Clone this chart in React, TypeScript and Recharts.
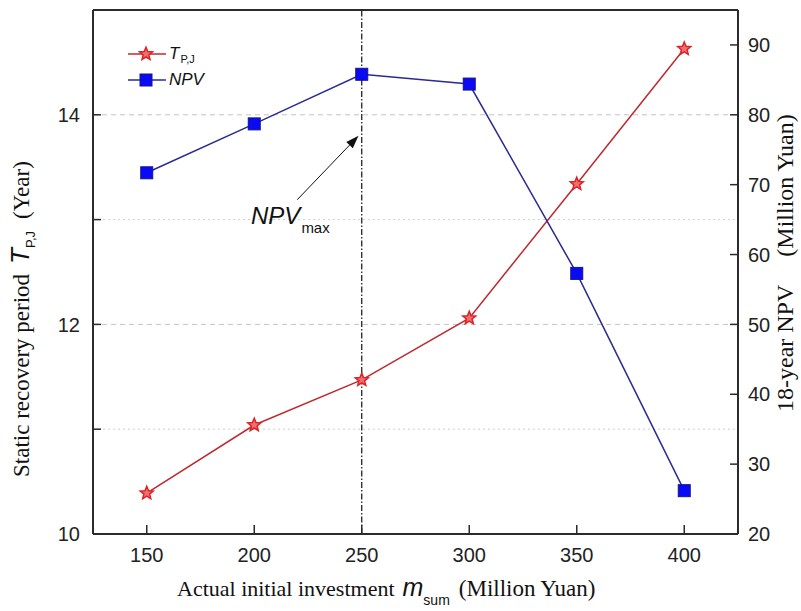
import React from 'react';
import {
  ComposedChart, Line, XAxis, YAxis, ReferenceLine, ReferenceDot, Legend,
} from 'recharts';

// ---- data ----
const investment = [150, 200, 250, 300, 350, 400];
const recoveryPeriod = [10.39, 11.04, 11.47, 12.06, 13.34, 14.63];
const npvValues = [71.7, 78.7, 85.8, 84.4, 57.3, 26.2];

const xTicks = [150, 200, 250, 300, 350, 400];
const leftTicks = [10, 11, 12, 13, 14, 15];
const leftLabeledTicks = [10, 12, 14];
const rightTicks = [20, 30, 40, 50, 60, 70, 80, 90];
const majorGridValues = [12, 14];
const minorGridValues = [11, 13];
const optimumInvestment = 250;
const arrowStart = { x: 220, y: 13.19 };
const arrowEnd = { x: 248.5, y: 13.8 };
const annotationAnchor = { x: 198.5, y: 12.96 };

const data = investment.map((m, i) => ({ m, tpj: recoveryPeriod[i], npv: npvValues[i] }));

const SANS = '"Liberation Sans", Arial, sans-serif';
const SERIF = '"Liberation Serif", "Times New Roman", serif';
const RED_LINE = '#c0282e';
const RED_MARK = '#dc2328';
const BLUE_LINE = '#2a2a92';
const BLUE_MARK = '#0a0af5';
const AXIS = '#2b2b2b';

const starPoints = (cx: number, cy: number, R: number, r: number) => {
  const pts: string[] = [];
  for (let i = 0; i < 10; i++) {
    const rad = i % 2 === 0 ? R : r;
    const a = -Math.PI / 2 + (i * Math.PI) / 5;
    pts.push(`${cx + rad * Math.cos(a)},${cy + rad * Math.sin(a)}`);
  }
  return pts.join(' ');
};

const Star = ({ cx, cy }: any) => (
  <polygon points={starPoints(cx, cy, 6.8, 3)} fill="#ef7070" stroke={RED_MARK} strokeWidth={1.5} />
);
const Square = ({ cx, cy }: any) => (
  <rect x={cx - 6} y={cy - 6} width={12} height={12} fill={BLUE_MARK} stroke="#15158a" strokeWidth={1} />
);

const LeftTick = (p: any) => {
  const { x, y, payload } = p;
  const ax = x + 13;
  return (
    <g>
      <line x1={ax} y1={y} x2={ax + 8} y2={y} stroke={AXIS} strokeWidth={1.5} />
      {leftLabeledTicks.includes(payload.value) && (
        <text x={x} y={y} dy="0.36em" textAnchor="end" fontFamily={SANS} fontSize={20} fill="#222">
          {payload.value}
        </text>
      )}
    </g>
  );
};

const RightTick = (p: any) => {
  const { x, y, payload } = p;
  const ax = x - 10;
  return (
    <g>
      <line x1={ax} y1={y} x2={ax - 8} y2={y} stroke={AXIS} strokeWidth={1.5} />
      <text x={x} y={y} dy="0.36em" textAnchor="start" fontFamily={SANS} fontSize={20} fill="#222">
        {payload.value}
      </text>
    </g>
  );
};

const BottomTick = (p: any) => {
  const { x, y, payload } = p;
  const ay = y - 14;
  return (
    <g>
      <line x1={x} y1={ay} x2={x} y2={ay - 9} stroke={AXIS} strokeWidth={1.5} />
      <text x={x} y={y} dy="0.72em" textAnchor="middle" fontFamily={SANS} fontSize={20} fill="#222">
        {payload.value}
      </text>
    </g>
  );
};

const BottomTitle = () => (
  <text x={177} y={596} fill="#111">
    <tspan fontFamily={SERIF} fontSize={22}>Actual initial investment</tspan>
    <tspan fontFamily={SANS} fontStyle="italic" fontSize={25} dx={8}>m</tspan>
    <tspan fontFamily={SANS} fontSize={14} dy={9}>sum</tspan>
    <tspan fontFamily={SERIF} fontSize={23} dy={-9} dx={9}>(Million Yuan)</tspan>
  </text>
);

const LeftTitle = () => (
  <text x={29} y={477} transform="rotate(-90, 29, 477)" fill="#111">
    <tspan fontFamily={SERIF} fontSize={23}>Static recovery period</tspan>
    <tspan fontFamily={SANS} fontStyle="italic" fontSize={26} dx={10}>T</tspan>
    <tspan fontFamily={SANS} fontSize={13} dy={6}>P,J</tspan>
    <tspan fontFamily={SERIF} fontSize={23} dy={-6} dx={12}>(Year)</tspan>
  </text>
);

const RightTitle = () => (
  <text x={793} y={412} transform="rotate(-90, 793, 412)" fill="#111" fontFamily={SERIF} fontSize={24}>
    <tspan>18-year NPV</tspan>
    <tspan dx={28}>(Million Yuan)</tspan>
  </text>
);

const Arrow = (p: any) => {
  const { x1, y1, x2, y2 } = p;
  const ang = Math.atan2(y2 - y1, x2 - x1);
  const L = 13;
  const W = 4.5;
  const bx = x2 - L * Math.cos(ang);
  const by = y2 - L * Math.sin(ang);
  const nx = -Math.sin(ang);
  const ny = Math.cos(ang);
  return (
    <g>
      <line x1={x1} y1={y1} x2={bx} y2={by} stroke="#111" strokeWidth={1} />
      <polygon
        points={`${x2},${y2} ${bx + nx * W},${by + ny * W} ${bx - nx * W},${by - ny * W}`}
        fill="#111"
      />
    </g>
  );
};

const AnnotationText = ({ cx, cy }: any) => (
  <text x={cx} y={cy} fill="#111" fontFamily={SANS} fontStyle="italic">
    <tspan fontSize={24}>NPV</tspan>
    <tspan fontStyle="normal" fontSize={15} dy={9} dx={1}>max</tspan>
  </text>
);

const LegendContent = () => (
  <div style={{ fontFamily: SANS, color: '#111' }}>
    <div style={{ display: 'flex', alignItems: 'center', height: 26 }}>
      <svg width={40} height={18}>
        <line x1={1} y1={9} x2={39} y2={9} stroke={RED_LINE} strokeWidth={1.5} />
        <Star cx={19} cy={9} />
      </svg>
      <span style={{ fontStyle: 'italic', fontSize: 17, marginLeft: 2 }}>T</span>
      <span style={{ fontSize: 11, marginTop: 10, marginLeft: 1 }}>P,J</span>
    </div>
    <div style={{ display: 'flex', alignItems: 'center', height: 26 }}>
      <svg width={40} height={18}>
        <line x1={1} y1={9} x2={39} y2={9} stroke={BLUE_LINE} strokeWidth={1.5} />
        <Square cx={19} cy={9} />
      </svg>
      <span style={{ fontStyle: 'italic', fontSize: 17, marginLeft: 2 }}>NPV</span>
    </div>
  </div>
);

export default function App() {
  return (
    <div style={{ position: 'absolute', left: 0, top: 0, width: 801, height: 611, background: '#fff' }}>
      <ComposedChart
        width={801}
        height={611}
        data={data}
        margin={{ top: 10, right: 13, bottom: 47, left: 33 }}
      >
        <XAxis
          dataKey="m"
          type="number"
          domain={[125, 425]}
          ticks={xTicks}
          interval={0}
          height={30}
          tickSize={0}
          tickMargin={14}
          tickLine={false}
          axisLine={{ stroke: AXIS, strokeWidth: 2 }}
          tick={(p: any) => <BottomTick {...p} />}
          label={{ content: () => <BottomTitle /> }}
        />
        <YAxis
          yAxisId="left"
          orientation="left"
          domain={[10, 15]}
          ticks={leftTicks}
          interval={0}
          width={60}
          tickSize={0}
          tickMargin={13}
          tickLine={false}
          axisLine={{ stroke: AXIS, strokeWidth: 2 }}
          tick={(p: any) => <LeftTick {...p} />}
          label={{ content: () => <LeftTitle /> }}
        />
        <YAxis
          yAxisId="right"
          orientation="right"
          domain={[20, 95]}
          ticks={rightTicks}
          interval={0}
          width={50}
          tickSize={0}
          tickMargin={10}
          tickLine={false}
          axisLine={{ stroke: AXIS, strokeWidth: 2 }}
          tick={(p: any) => <RightTick {...p} />}
          label={{ content: () => <RightTitle /> }}
        />
        {minorGridValues.map((v) => (
          <ReferenceLine key={`mi${v}`} yAxisId="left" y={v} stroke="#cfcfcf" strokeDasharray="2 3" />
        ))}
        {majorGridValues.map((v) => (
          <ReferenceLine key={`ma${v}`} yAxisId="left" y={v} stroke="#c4c4c4" strokeDasharray="5 4" />
        ))}
        <ReferenceLine yAxisId="left" y={15} stroke={AXIS} strokeWidth={2} ifOverflow="extendDomain" />
        <ReferenceLine
          yAxisId="left"
          x={optimumInvestment}
          stroke="#111"
          strokeWidth={1.2}
          strokeDasharray="6 2 1.5 2"
        />
        <ReferenceLine
          yAxisId="left"
          segment={[arrowStart, arrowEnd]}
          shape={(p: any) => <Arrow {...p} />}
        />
        <ReferenceDot
          yAxisId="left"
          x={annotationAnchor.x}
          y={annotationAnchor.y}
          r={0}
          shape={(p: any) => <AnnotationText {...p} />}
        />
        <Line
          yAxisId="left"
          dataKey="tpj"
          stroke={RED_LINE}
          strokeWidth={1.5}
          isAnimationActive={false}
          dot={(p: any) => <Star key={`s${p.index}`} cx={p.cx} cy={p.cy} />}
        />
        <Line
          yAxisId="right"
          dataKey="npv"
          stroke={BLUE_LINE}
          strokeWidth={1.5}
          isAnimationActive={false}
          dot={(p: any) => <Square key={`q${p.index}`} cx={p.cx} cy={p.cy} />}
        />
        <Legend
          layout="vertical"
          align="center"
          verticalAlign="middle"
          wrapperStyle={{ position: 'absolute', left: 127, top: 41, width: 'auto', height: 'auto' }}
          content={() => <LegendContent />}
        />
      </ComposedChart>
    </div>
  );
}
